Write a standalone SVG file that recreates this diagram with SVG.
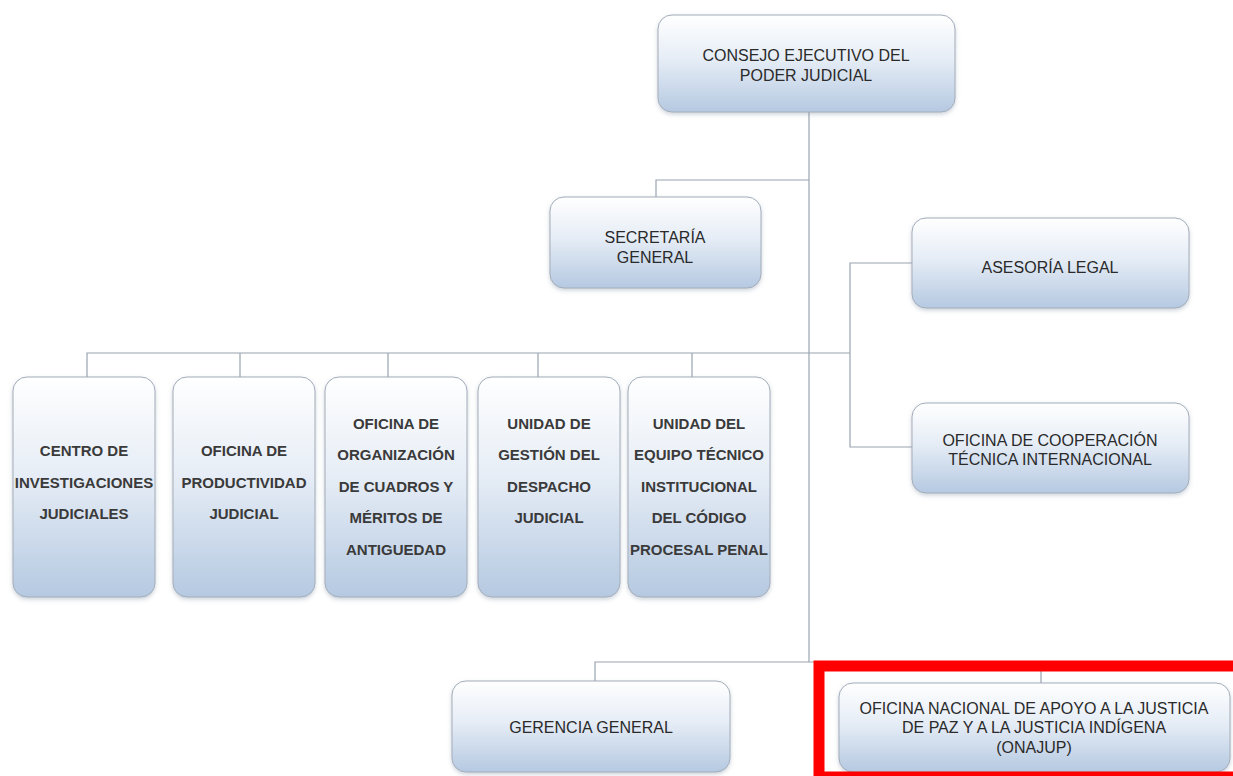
<svg xmlns="http://www.w3.org/2000/svg" width="1233" height="776" viewBox="0 0 1233 776">
<defs>
<linearGradient id="g" x1="0" y1="0" x2="0" y2="1">
<stop offset="0" stop-color="#ffffff"/>
<stop offset="0.45" stop-color="#e6edf6"/>
<stop offset="1" stop-color="#b5c9e1"/>
</linearGradient>
<filter id="sh" x="-10%" y="-10%" width="120%" height="130%">
<feDropShadow dx="0" dy="2" stdDeviation="2" flood-color="#6f7f95" flood-opacity="0.35"/>
</filter>
<style>
.box{fill:url(#g);stroke:#a3adba;stroke-width:1;filter:url(#sh)}
.t{font-family:"Liberation Sans",Arial,sans-serif;font-size:16px;fill:#2a2a2a;text-anchor:middle}
.b{font-family:"Liberation Sans",Arial,sans-serif;font-size:15px;font-weight:bold;fill:#3a3a3a;text-anchor:middle}
.c{fill:none;stroke:#9aa4b0;stroke-width:1.2}
</style>
</defs>
<rect width="1233" height="776" fill="#ffffff"/>
<g id="connectors">
<path class="c" d="M809 112V662"/>
<path class="c" d="M656 197V180H809"/>
<path class="c" d="M912 263H850V447H912"/>
<path class="c" d="M87 377V353H850"/>
<path class="c" d="M240 353V377M388 353V377M538 353V377M692 353V377"/>
<path class="c" d="M595 681V662H1041V683"/>
</g>
<g id="consejo"><rect class="box" x="658" y="15" width="297" height="97" rx="14"/>
<text class="t" x="806" y="61">CONSEJO EJECUTIVO DEL</text><text class="t" x="806" y="81">PODER JUDICIAL</text></g>
<g id="secretaria"><rect class="box" x="550" y="197" width="211" height="91" rx="14"/>
<text class="t" x="655" y="243">SECRETARÍA</text><text class="t" x="655" y="263">GENERAL</text></g>
<g id="asesoria"><rect class="box" x="912" y="218" width="277" height="90" rx="14"/>
<text class="t" x="1050" y="273">ASESORÍA LEGAL</text></g>
<g id="cooperacion"><rect class="box" x="912" y="403" width="277" height="90" rx="14"/>
<text class="t" x="1050" y="446">OFICINA DE COOPERACIÓN</text><text class="t" x="1050" y="465">TÉCNICA INTERNACIONAL</text></g>
<g id="centro"><rect class="box" x="13" y="377" width="142" height="220" rx="14"/>
<text class="b" x="84" y="456">CENTRO DE</text><text class="b" x="84" y="488">INVESTIGACIONES</text><text class="b" x="84" y="519">JUDICIALES</text></g>
<g id="productividad"><rect class="box" x="173" y="377" width="142" height="220" rx="14"/>
<text class="b" x="244" y="456">OFICINA DE</text><text class="b" x="244" y="488">PRODUCTIVIDAD</text><text class="b" x="244" y="519">JUDICIAL</text></g>
<g id="organizacion"><rect class="box" x="325" y="377" width="142" height="220" rx="14"/>
<text class="b" x="396" y="429">OFICINA DE</text><text class="b" x="396" y="460">ORGANIZACIÓN</text><text class="b" x="396" y="492">DE CUADROS Y</text><text class="b" x="396" y="523">MÉRITOS DE</text><text class="b" x="396" y="555">ANTIGUEDAD</text></g>
<g id="gestion"><rect class="box" x="478" y="377" width="142" height="220" rx="14"/>
<text class="b" x="549" y="429">UNIDAD DE</text><text class="b" x="549" y="460">GESTIÓN DEL</text><text class="b" x="549" y="492">DESPACHO</text><text class="b" x="549" y="523">JUDICIAL</text></g>
<g id="equipo"><rect class="box" x="628" y="377" width="142" height="220" rx="14"/>
<text class="b" x="699" y="429">UNIDAD DEL</text><text class="b" x="699" y="460">EQUIPO TÉCNICO</text><text class="b" x="699" y="492">INSTITUCIONAL</text><text class="b" x="699" y="523">DEL CÓDIGO</text><text class="b" x="699" y="555">PROCESAL PENAL</text></g>
<g id="gerencia"><rect class="box" x="452" y="681" width="278" height="91" rx="14"/>
<text class="t" x="591" y="733">GERENCIA GENERAL</text></g>
<g id="onajup"><rect class="box" x="839" y="683" width="391" height="89" rx="14"/>
<text class="t" x="1034" y="714">OFICINA NACIONAL DE APOYO A LA JUSTICIA</text><text class="t" x="1034" y="733">DE PAZ Y A LA JUSTICIA INDÍGENA</text><text class="t" x="1034" y="753">(ONAJUP)</text></g>
<rect id="highlight" x="819" y="666" width="430" height="111" fill="none" stroke="#ff0000" stroke-width="11"/>
</svg>
